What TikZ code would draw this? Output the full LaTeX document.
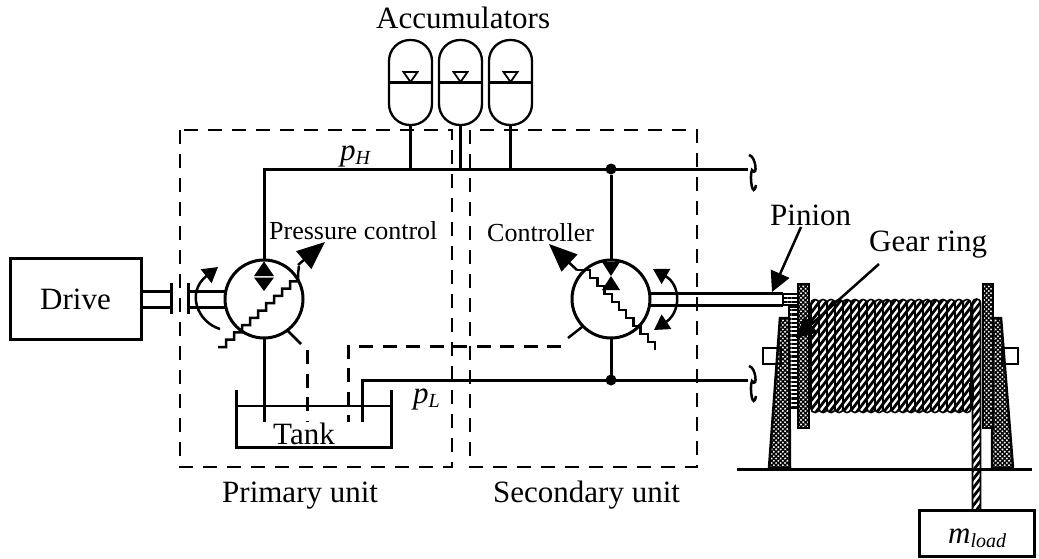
\documentclass[tikz,border=0pt]{standalone}
\usepackage{fontspec}
\setmainfont{Liberation Serif}
\usetikzlibrary{arrows.meta,patterns.meta,calc}
\tikzset{
 pipe/.style={line width=3pt},
 thinl/.style={line width=2.5pt},
 dashl/.style={line width=3pt,dash pattern=on 14pt off 9.5pt},
 boxdash/.style={line width=2.5pt,dash pattern=on 14pt off 10pt},
 lab/.style={font=\fontsize{31}{31}\selectfont,anchor=base west,inner sep=0pt},
 slab/.style={font=\fontsize{26}{26}\selectfont,anchor=base west,inner sep=0pt},
 unit/.style={circle,draw,line width=3pt,minimum size=78pt,inner sep=0pt,outer sep=0pt},
 acc/.style={draw,line width=2.3pt,rounded corners=21pt,minimum width=43pt,minimum height=85pt,inner sep=0pt,outer sep=0pt},
 junction/.style={circle,fill=black,minimum size=11pt,inner sep=0pt,outer sep=0pt},
 bigtip/.style={-{Triangle[length=28pt,width=23pt]}},
 medtip/.style={-{Triangle[length=20pt,width=20pt]}},
 stripe/.style={line width=2.8pt},
 coil/.style={line width=1.6pt,rounded corners=3.8pt},
 speck/.style={pattern={Hatch[angle=45,distance=3.2pt,line width=1.4pt]}},
 teeth/.style={pattern={Lines[angle=0,distance=4.2pt,line width=2.2pt]}},
 bigbox/.style={draw,line width=3pt,inner sep=0pt,outer sep=0pt}
}
\begin{document}
\begin{tikzpicture}[x=1pt,y=-1pt]
\useasboundingbox (0,0) rectangle (1039,558);
% dashed unit frames
\draw[boxdash] (180,130) rectangle (452,467);
\draw[boxdash] (470,130) rectangle (697,467);
% nodes
\node[bigbox,minimum width=131pt,minimum height=81pt] (drive) at (75.5,298.5) {};
\node[unit] (pump) at (264,299) {};
\node[unit] (motor) at (611,299) {};
\node[acc] (acc1) at (410.5,82.5) {};
\node[acc] (acc2) at (460.5,82.5) {};
\node[acc] (acc3) at (510.5,82.5) {};
\node[junction] (jH) at (611,169) {};
\node[junction] (jL) at (611,380) {};
\coordinate (endH) at (748,169);
\coordinate (endL) at (748,380);
% accumulators detail
\foreach \a in {acc1,acc2,acc3}{
  \draw[thinl] (\a.west) -- (\a.east);
  \draw[line width=1.8pt] ($(\a.center)+(-7,-10.5)$) -- ++(14,0) -- ++(-7,10) -- cycle;
  \draw[thinl] (\a.south) -- (\a |- jH);
}
% pressure lines
\draw[pipe] (pump.north) |- (endH);
\draw[pipe] (motor.north) -- (jH);
\draw[pipe] (motor.south) -- (jL);
\coordinate (tankL) at (362,422);
\draw[pipe] (tankL) |- (endL);
\foreach \e in {endH,endL}{
  \draw[thinl] ($(\e)+(1,-14)$) .. controls +(7,1) and +(6,8) .. ($(\e)+(4,1)$) .. controls +(-3,7) and +(-3,15) .. ($(\e)+(8,16)$);
}
% drive shaft
\coordinate (barA) at (171,299);
\coordinate (barB) at (188,299);
\draw[pipe] (barA)+(0,-16) -- +(0,15);
\draw[pipe] (barB)+(0,-16) -- +(0,15);
\draw[pipe] (drive.east |- 0,291) -- (171,291);
\draw[pipe] (drive.east |- 0,307) -- (171,307);
\draw[pipe] (188,291) -- (226,291);
\draw[pipe] (188,307) -- (226,307);
% pump symbols
\draw[thinl,-{Triangle[length=15pt,width=17pt]}] (220,329) .. controls (197,322) and (186,292) .. (218,267);
\fill (264,261.5) -- (274,276) -- (254,276) -- cycle;
\fill (264,291) -- (274,277.5) -- (254,277.5) -- cycle;
\draw[thinl] (218,347) foreach \i in {1,...,10}{ -- ++(8,0) -- ++(0,-7.3)} -- ++(1,-8);
\draw[thinl,bigtip] (298,265) -- (325,242);
\draw[thinl] (288,331) -- (301,344);
% motor symbols
\fill (602,262) -- (620,262) -- (611,276) -- cycle;
\fill (611,276) -- (620,290) -- (602,290) -- cycle;
\draw[thinl] (655,350) foreach \i in {1,...,10}{ -- ++(0,-8) -- ++(-7.2,0)} -- ++(-6,0);
\draw[thinl,bigtip] (577,270) -- (549,244);
\draw[thinl] (582,327) -- (568,338);
\draw[thinl,{Triangle[length=15pt,width=17pt]}-{Triangle[length=15pt,width=17pt]}] (653,269) .. controls (681,285) and (681,312) .. (654,330);
% tank
\coordinate (tankTL) at (236,390);
\coordinate (tankTR) at (391,390);
\coordinate (tankBL) at (236,447);
\coordinate (tankBR) at (391,447);
\draw[pipe] (tankTL) -- (tankBL) -- (tankBR) -- (tankTR);
\draw[thinl] (236,406) -- (391,406);
\draw[pipe] (pump.south) -- (264,422);
\draw[dashl] (301,344) ++(6,6) -- (307,422);
\draw[dashl] (561,346) -- (348,346) -- (348,422);
% output shaft
\draw[pipe] (motor.east |- 0,293.5) -- (783,293.5);
\draw[pipe] (motor.east |- 0,305.5) -- (783,305.5);
% winch
\draw[thinl,fill=white] (763,348) rectangle (781,364);
\draw[thinl,fill=white] (1002,348) rectangle (1018,364);
\draw[thinl,speck] (780,318) -- (789,318) -- (790,468) -- (769,468) -- cycle;
\draw[thinl,speck] (993,318) -- (1001,318) -- (1013,468) -- (992,468) -- cycle;
\draw[line width=1.5pt,teeth] (789,307) rectangle (798,408);
\draw[line width=1.5pt,teeth] (783,294) rectangle (798,305);
\draw[thinl,fill=white] (798,284) rectangle (809,428);
\draw[thinl,speck] (798,284) rectangle (809,428);
\draw[thinl,fill=white] (983,284) rectangle (993,428);
\draw[thinl,speck] (983,284) rectangle (993,428);
% rope coils: stripes clipped to the turns
\begin{scope}
  \clip[rounded corners=3.8pt] (811,299.5) foreach \k in {0,...,19}{
    ({811+8*\k},299.5) rectangle ({819+8*\k},412.5)};
  \foreach \s in {0,...,36}{
    \draw[stripe] (805,{303+8.8*\s}) -- ++(170,-221);
  }
\end{scope}
\foreach \k in {0,...,19}{
  \draw[coil] ({811+8*\k},299.5) rectangle ({819+8*\k},412.5);
}
\draw[line width=1.4pt] (970,384) rectangle (973,397);
\begin{scope}
  \clip (972.5,299) rectangle (980.5,510);
  \foreach \s in {0,...,25}{
    \draw[stripe] (965,{305+8.8*\s}) -- ++(24,-31.2);
  }
\end{scope}
\draw[coil] (972.5,510) -- (972.5,299) -- (980.5,299) -- (980.5,510);
\node[bigbox,minimum width=115pt,minimum height=46pt] (load) at (976.5,533.5) {};
\coordinate (gl) at (737,469);
\coordinate (gr) at (1032,469);
\draw[pipe] (gl) -- (gr);
% leaders
\coordinate (pinionTop) at (801,227);
\coordinate (pinionTip) at (772,292);
\coordinate (ringTop) at (879,264);
\coordinate (ringTip) at (796,338);
\draw[thinl,medtip] (pinionTop) -- (pinionTip);
\draw[thinl,medtip] (ringTop) -- (ringTip);
% labels
\node[lab] (tAcc) at (376,28) {Accumulators};
\node[lab] (tDrive) at (40,309) {Drive};
\node[lab] (tTank) at (273,444) {Tank};
\node[lab] (tPrim) at (222,502) {Primary unit};
\node[lab] (tSec) at (493,502) {Secondary unit};
\node[lab] (tPin) at (770,225) {Pinion};
\node[lab] (tRing) at (869,251) {Gear ring};
\node[slab] (tPress) at (269,239) {Pressure control};
\node[slab] (tCtrl) at (487,241) {Controller};
\node[lab] (tpH) at (340,160) {\textit{p}\raisebox{-4pt}{\fontsize{20}{20}\selectfont\textit{H}}};
\node[lab] (tpL) at (413,403) {\textit{p}\raisebox{-4pt}{\fontsize{20}{20}\selectfont\textit{L}}};
\node[lab] (tm) at (948,543) {\textit{m}\raisebox{-4pt}{\fontsize{20}{20}\selectfont\textit{load}}};
\end{tikzpicture}
\end{document}
